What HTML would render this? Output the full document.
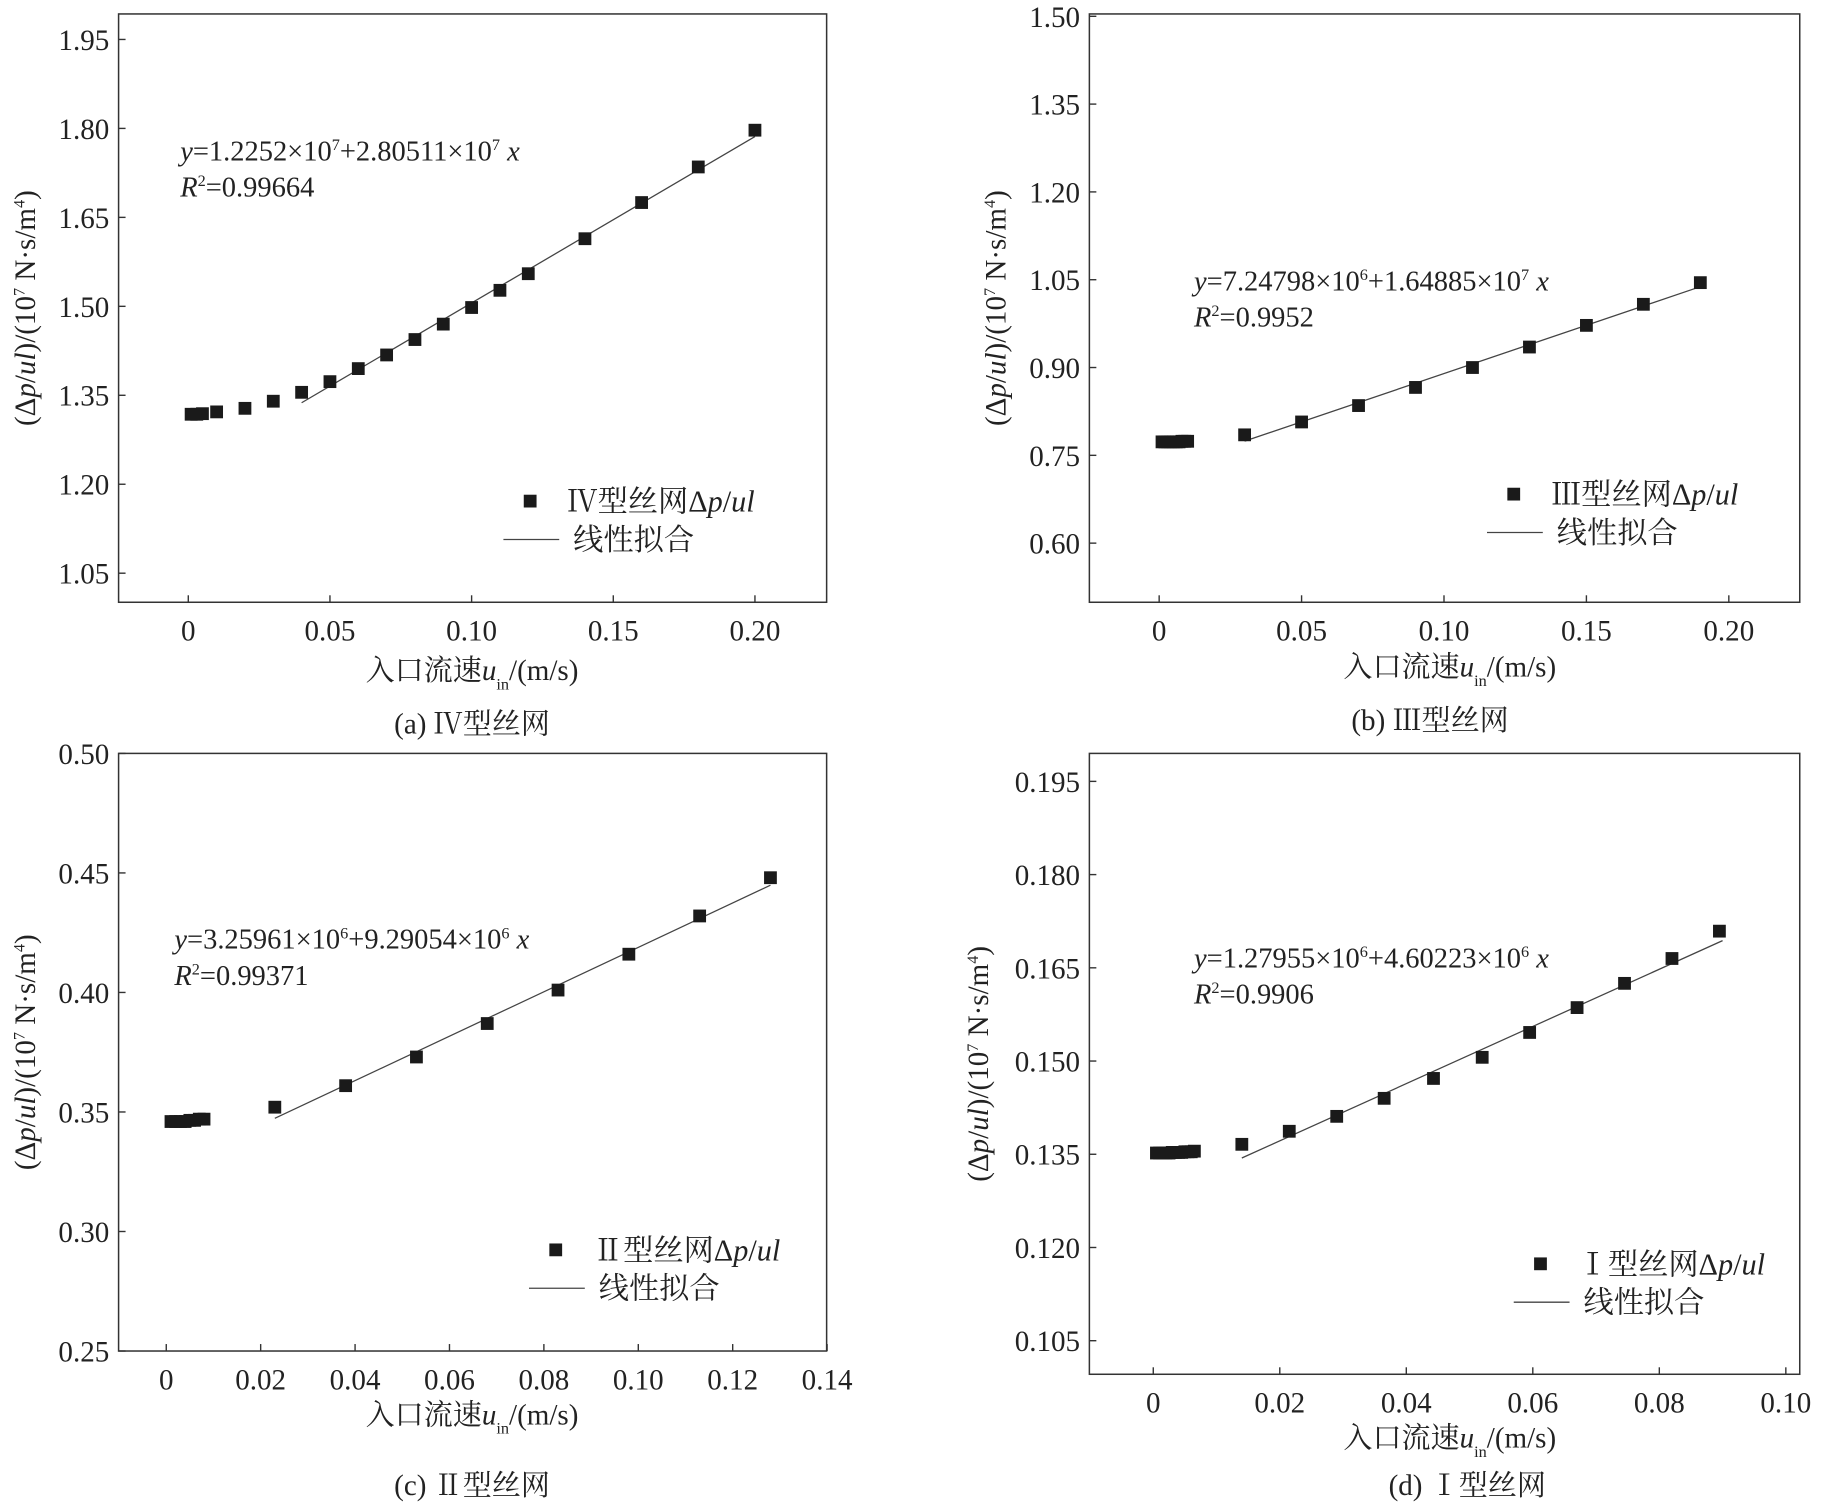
<!DOCTYPE html>
<html><head><meta charset="utf-8"><style>
html,body{margin:0;padding:0;background:#fff;}
svg{display:block;font-family:"Liberation Serif","Noto Serif CJK SC","Noto Sans CJK SC",serif;}
</style></head><body>
<svg id="fig" width="1823" height="1506" viewBox="0 0 1568 1295.3" preserveAspectRatio="none" xmlns="http://www.w3.org/2000/svg"></svg>
<script>
// Panel (a) data
const aX=[0.001,0.003,0.005,0.01,0.02,0.03,0.04,0.05,0.06,0.07,0.08,0.09,0.10,0.11,0.12,0.14,0.16,0.18,0.20];
const aY=[1.318,1.318,1.319,1.322,1.328,1.340,1.355,1.373,1.395,1.418,1.444,1.470,1.498,1.527,1.555,1.614,1.675,1.735,1.797];
const aFit=[1.2252,2.80511]; const aFitRange=[0.04,0.20];
const aXTicks=[0,0.05,0.10,0.15,0.20]; const aXLabels=["0","0.05","0.10","0.15","0.20"];
const aYTicks=[1.05,1.20,1.35,1.50,1.65,1.80,1.95]; const aYLabels=["1.05","1.20","1.35","1.50","1.65","1.80","1.95"];
// Panel (b) data
const bX=[0.001,0.002,0.003,0.004,0.005,0.006,0.007,0.008,0.009,0.01,0.03,0.05,0.07,0.09,0.11,0.13,0.15,0.17,0.19];
const bY=[0.773,0.773,0.773,0.773,0.773,0.773,0.773,0.774,0.774,0.774,0.785,0.807,0.835,0.866,0.900,0.935,0.972,1.008,1.045];
const bFit=[0.724798,1.64885]; const bFitRange=[0.03,0.19];
const bXTicks=[0,0.05,0.10,0.15,0.20]; const bXLabels=["0","0.05","0.10","0.15","0.20"];
const bYTicks=[0.60,0.75,0.90,1.05,1.20,1.35,1.50]; const bYLabels=["0.60","0.75","0.90","1.05","1.20","1.35","1.50"];
// Panel (c) data
const cX=[0.001,0.002,0.003,0.004,0.005,0.006,0.007,0.008,0.023,0.038,0.053,0.068,0.083,0.098,0.113,0.128];
const cY=[0.346,0.346,0.346,0.346,0.3465,0.3465,0.347,0.347,0.352,0.361,0.373,0.387,0.401,0.416,0.432,0.448];
const cFit=[0.325961,0.929054]; const cFitRange=[0.023,0.128];
const cXTicks=[0,0.02,0.04,0.06,0.08,0.10,0.12,0.14]; const cXLabels=["0","0.02","0.04","0.06","0.08","0.10","0.12","0.14"];
const cYTicks=[0.25,0.30,0.35,0.40,0.45,0.50]; const cYLabels=["0.25","0.30","0.35","0.40","0.45","0.50"];
// Panel (d) data
const dX=[0.0005,0.001,0.0015,0.002,0.0025,0.003,0.0035,0.004,0.0045,0.005,0.0055,0.006,0.0065,0.014,0.0215,0.029,0.0365,0.0443,0.052,0.0595,0.067,0.0745,0.082,0.0895];
const dY=[0.1352,0.1352,0.1352,0.1352,0.1352,0.1353,0.1353,0.1353,0.1353,0.1354,0.1354,0.1354,0.1355,0.1366,0.1387,0.1411,0.1440,0.1472,0.1506,0.1546,0.1586,0.1625,0.1665,0.1709];
const dFit=[0.127955,0.460223]; const dFitRange=[0.014,0.090];
const dXTicks=[0,0.02,0.04,0.06,0.08,0.10]; const dXLabels=["0","0.02","0.04","0.06","0.08","0.10"];
const dYTicks=[0.105,0.120,0.135,0.150,0.165,0.180,0.195]; const dYLabels=["0.105","0.120","0.135","0.150","0.165","0.180","0.195"];

const NS="http://www.w3.org/2000/svg";
const svg=document.getElementById('fig');
function mk(tag,attrs,parent){const e=document.createElementNS(NS,tag);for(const k in attrs)e.setAttribute(k,attrs[k]);(parent||svg).appendChild(e);return e;}

function panel(cfg){
  const g=mk('g',{});
  
  
  const sx=v=>cfg.L+(v-cfg.xmin)/(cfg.xmax-cfg.xmin)*(cfg.R-cfg.L);
  const sy=v=>cfg.B-(v-cfg.ymin)/(cfg.ymax-cfg.ymin)*(cfg.B-cfg.T);
  const box=mk('rect',{x:cfg.L,y:cfg.T,width:cfg.R-cfg.L,height:cfg.B-cfg.T,fill:'none',stroke:'#333','stroke-width':1.3},g);
  
  
  cfg.xt.forEach((v,i)=>{
    const x=sx(v);
    if(x<=cfg.R+0.5) mk('line',{x1:x,x2:x,y1:cfg.B,y2:cfg.B-6,stroke:'#333','stroke-width':1.2},g);
    const t=mk('text',{x:x,y:cfg.B+33,'text-anchor':'middle','font-size':25,fill:'#222'},g);
    t.textContent=cfg.xl[i];
    
    
  });
  cfg.yt.forEach((v,i)=>{
    const y=sy(v);
    mk('line',{x1:cfg.L,x2:cfg.L+6,y1:y,y2:y,stroke:'#333','stroke-width':1.2},g);
    const t=mk('text',{x:cfg.L-8,y:y+9,'text-anchor':'end','font-size':25,fill:'#222'},g);
    t.textContent=cfg.yl[i];
    
    
  });
  const fl=mk('line',{x1:sx(cfg.fr[0]),y1:sy(cfg.fit[0]+cfg.fit[1]*cfg.fr[0]),x2:sx(cfg.fr[1]),y2:sy(cfg.fit[0]+cfg.fit[1]*cfg.fr[1]),stroke:'#444','stroke-width':1.1},g);
  
  
  cfg.X.forEach((xv,i)=>{
    const r=mk('rect',{x:sx(xv)-5.5,y:sy(cfg.Y[i])-5.5,width:11,height:11,fill:'#1a1a1a'},g);
    
    
  });
  const e1=mk('text',{x:cfg.eq[0],y:cfg.eq[1],'font-size':24.5,fill:'#222'},g);
  e1.innerHTML=cfg.eqHtml;
  
  
  const e2=mk('text',{x:cfg.eq[0],y:cfg.eq[1]+31,'font-size':24.5,fill:'#222'},g);
  e2.innerHTML='<tspan font-style="italic">R</tspan><tspan font-size="14" dy="-9">2</tspan><tspan dy="9">='+cfg.r2+'</tspan>';
  
  
  const lg=mk('g',{},g);
  
  
  mk('rect',{x:cfg.lg[0]-5.5,y:cfg.lg[1]-5.5,width:11,height:11,fill:'#1a1a1a'},lg);
  const lt=mk('text',{x:cfg.lg[0]+32,y:cfg.lg[1]+9,'font-size':26,fill:'#222'},lg);
  lt.innerHTML=cfg.lgName+'型丝网Δ<tspan font-style="italic">p</tspan>/<tspan font-style="italic">ul</tspan>';
  
  
  mk('line',{x1:cfg.lg[0]-23,x2:cfg.lg[0]+25,y1:cfg.lg[1]+33,y2:cfg.lg[1]+33,stroke:'#444','stroke-width':1.1},lg);
  const lt2=mk('text',{x:cfg.lg[0]+37,y:cfg.lg[1]+42,'font-size':26,fill:'#222'},lg);
  lt2.textContent='线性拟合';
  
  
  const yt=mk('text',{x:0,y:0,'text-anchor':'middle','font-size':25,fill:'#222',transform:'translate('+cfg.ylab[0]+','+cfg.ylab[1]+') rotate(-90)'},g);
  yt.innerHTML='(Δ<tspan font-style="italic">p</tspan>/<tspan font-style="italic">ul</tspan>)/(10<tspan font-size="14" dy="-9">7</tspan><tspan dy="9"> N·s/m</tspan><tspan font-size="14" dy="-9">4</tspan><tspan dy="9">)</tspan>';
  
  
  const xt=mk('text',{x:cfg.xlab[0],y:cfg.xlab[1],'text-anchor':'middle','font-size':25,fill:'#222'},g);
  xt.innerHTML='入口流速<tspan font-style="italic">u</tspan><tspan font-size="14" dy="8">in</tspan><tspan dy="-8">/(m/s)</tspan>';
  
  
  const cp=mk('text',{x:cfg.cap[0],y:cfg.cap[1],'text-anchor':'middle','font-size':25,fill:'#222'},g);
  cp.textContent=cfg.capText;
  
  
}

panel({id:'a',L:102,R:711,T:12,B:518,xmin:-0.0246,xmax:0.2253,ymin:1.001,ymax:1.993,
  X:aX,Y:aY,fit:aFit,fr:aFitRange,xt:aXTicks,xl:aXLabels,yt:aYTicks,yl:aYLabels,
  eq:[155,138],eqHtml:'<tspan font-style="italic">y</tspan>=1.2252×10<tspan font-size="14" dy="-9">7</tspan><tspan dy="9">+2.80511×10</tspan><tspan font-size="14" dy="-9">7</tspan><tspan dy="9" font-style="italic"> x</tspan>',r2:'0.99664',
  lg:[456,431],lgName:'Ⅳ',ylab:[30,265],xlab:[406,585],cap:[406,631],capText:'(a) Ⅳ型丝网'});
panel({id:'b',L:937,R:1548,T:12,B:518,xmin:-0.0245,xmax:0.2249,ymin:0.499,ymax:1.504,
  X:bX,Y:bY,fit:bFit,fr:bFitRange,xt:bXTicks,xl:bXLabels,yt:bYTicks,yl:bYLabels,
  eq:[1027,250],eqHtml:'<tspan font-style="italic">y</tspan>=7.24798×10<tspan font-size="14" dy="-9">6</tspan><tspan dy="9">+1.64885×10</tspan><tspan font-size="14" dy="-9">7</tspan><tspan dy="9" font-style="italic"> x</tspan>',r2:'0.9952',
  lg:[1302,425],lgName:'Ⅲ',ylab:[865,265],xlab:[1247,582],cap:[1230,628],capText:'(b) Ⅲ型丝网'});
panel({id:'c',L:102,R:711,T:648,B:1162,xmin:-0.0101,xmax:0.1399,ymin:0.25,ymax:0.50,
  X:cX,Y:cY,fit:cFit,fr:cFitRange,xt:cXTicks,xl:cXLabels,yt:cYTicks,yl:cYLabels,
  eq:[150,816],eqHtml:'<tspan font-style="italic">y</tspan>=3.25961×10<tspan font-size="14" dy="-9">6</tspan><tspan dy="9">+9.29054×10</tspan><tspan font-size="14" dy="-9">6</tspan><tspan dy="9" font-style="italic"> x</tspan>',r2:'0.99371',
  lg:[478,1075],lgName:'Ⅱ',ylab:[30,905],xlab:[406,1225],cap:[406,1286],capText:'(c) Ⅱ型丝网'});
panel({id:'d',L:937,R:1548,T:648,B:1182,xmin:-0.0101,xmax:0.1022,ymin:0.0996,ymax:0.1995,
  X:dX,Y:dY,fit:dFit,fr:dFitRange,xt:dXTicks,xl:dXLabels,yt:dYTicks,yl:dYLabels,
  eq:[1027,832],eqHtml:'<tspan font-style="italic">y</tspan>=1.27955×10<tspan font-size="14" dy="-9">6</tspan><tspan dy="9">+4.60223×10</tspan><tspan font-size="14" dy="-9">6</tspan><tspan dy="9" font-style="italic"> x</tspan>',r2:'0.9906',
  lg:[1325,1087],lgName:'Ⅰ',ylab:[850,915],xlab:[1247,1245],cap:[1262,1286],capText:'(d) Ⅰ型丝网'});
</script>
</body></html>
